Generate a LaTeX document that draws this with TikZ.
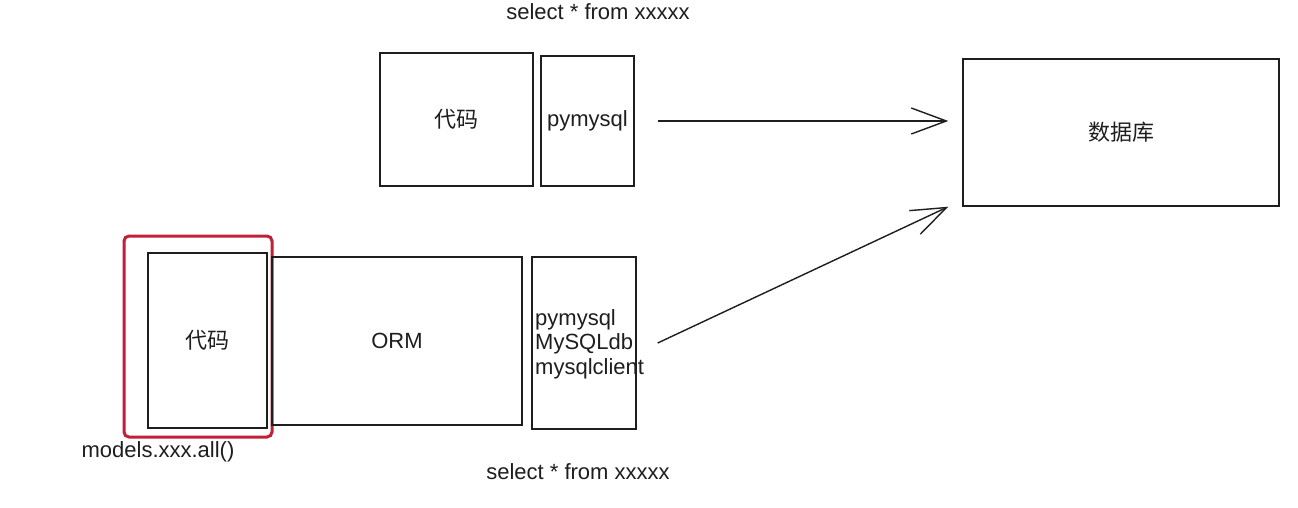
\documentclass[tikz,border=0pt]{standalone}
\usepackage{fontspec}
\setmainfont{Liberation Sans}
\newfontfamily\cjk{Noto Sans CJK SC}
\usetikzlibrary{arrows.meta,calc}
\definecolor{ink}{HTML}{1E1E1E}
\definecolor{hl}{RGB}{192,32,56}
\tikzset{
  box/.style={draw=ink, line width=1.4pt, inner sep=0pt, text=ink, font=\fontsize{22}{25}\selectfont},
  lbl/.style={inner sep=0pt, text=ink, font=\fontsize{22}{24.5}\selectfont},
  cjkbox/.style={box, font=\cjk\fontsize{22}{25}\selectfont},
  arr/.style={draw=ink, line width=1.4pt, -{Straight Barb[length=35pt,width=26pt,line width=1.4pt]}},
  redbox/.style={draw=hl, line width=3pt, rounded corners=5pt, inner sep=0pt}
}
\begin{document}
\begin{tikzpicture}[x=1pt,y=-1pt]
\useasboundingbox[fill=white] (0,0) rectangle (1298,508);
% top row
\node[lbl] (sq1) at (598,12) {select * from xxxxx};
\node[cjkbox, minimum width=153pt, minimum height=133pt] (code1) at (456.5,119.5) {代码};
\node[box, minimum width=93pt, minimum height=130pt] (pym) at (587.5,121) {pymysql};
\node[cjkbox, minimum width=316pt, minimum height=147pt] (db) at (1121,132.5) {数据库};
% bottom row
\node[redbox, minimum width=148pt, minimum height=201pt] (hlbox) at (198,336.5) {};
\node[cjkbox, minimum width=119pt, minimum height=175pt] (code2) at (207.5,340.5) {代码};
\node[box, minimum width=250pt, minimum height=168pt] (orm) at (397,341) {ORM};
\node[box, minimum width=104pt, minimum height=172pt] (drv) at (584,343) {};
\node[lbl, anchor=west, align=left] (drvtxt) at (535,344) {pymysql\\MySQLdb\\mysqlclient};
\node[lbl] (models) at (158,452) {models.xxx.all()};
\node[lbl] (sq2) at (578,472) {select * from xxxxx};
% connectors
\draw[arr] ([xshift=23pt]pym.east) -- ([xshift=-14pt]pym.east -| db.west);
\draw[arr] ([xshift=21pt]drv.east) -- ([xshift=-14pt]db.south west);
\end{tikzpicture}
\end{document}
